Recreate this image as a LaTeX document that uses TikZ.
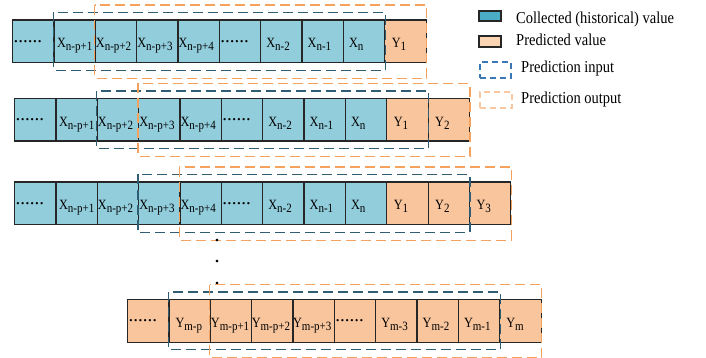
\documentclass[tikz,border=0pt]{standalone}
\usepackage{fontspec}
\setmainfont{Liberation Serif}
\usepackage{graphicx}
\definecolor{histfill}{HTML}{92CDDC}
\definecolor{predfill}{HTML}{F8C59D}
\definecolor{cellline}{HTML}{262626}
\definecolor{inline}{HTML}{2F5E74}
\definecolor{outline}{HTML}{F4A25E}
\definecolor{leghist}{HTML}{4BACC6}
\definecolor{legpred}{HTML}{FBD4B4}
\definecolor{legin}{HTML}{3A78B5}
\definecolor{legout}{HTML}{F8C8A2}
\newcommand\lab[2]{\scalebox{1}[1.15]{#1\raisebox{-2.6pt}{\fontsize{11}{11}\selectfont #2}}}
\newcommand\dd{\raisebox{5.5pt}{\fontsize{19}{19}\selectfont ......}}
\newcommand\legtext[1]{\scalebox{1}[1.15]{#1}}
\tikzset{
  cell/.style={draw=cellline, line width=1.2pt, minimum width=41.35pt, minimum height=42.5pt, anchor=north west, inner sep=0},
  hist/.style={cell, fill=histfill},
  pred/.style={cell, fill=predfill},
  lbl/.style={anchor=base west, inner sep=0, font=\fontsize{12.3}{12.3}\selectfont},
  inbox/.style={draw=inline, line width=1.3pt, dash pattern=on 10pt off 5pt},
  outbox/.style={draw=outline, line width=1.3pt, dash pattern=on 10pt off 5pt},
  legtxt/.style={anchor=base west, inner sep=0, font=\fontsize{14.5}{14.5}\selectfont},
  vdot/.style={anchor=base, inner sep=0, font=\fontsize{22}{22}\selectfont, text=black},
}
\begin{document}
\begin{tikzpicture}[x=1pt,y=-1pt]
\useasboundingbox (0,0) rectangle (706,358);

% Row 1
\foreach \k/\typ/\ins/\txt in {0/hist/1.5/{\dd},1/hist/3.5/{\lab{X}{n-p+1}},2/hist/1/{\lab{X}{n-p+2}},3/hist/1/{\lab{X}{n-p+3}},4/hist/1/{\lab{X}{n-p+4}},5/hist/1.5/{\dd},6/hist/6/{\lab{X}{n-2}},7/hist/6/{\lab{X}{n-1}},8/hist/6/{\lab{X}{n}},9/pred/7.5/{\lab{Y}{1}}}{
  \node[\typ] (a\k) at ({12+\k*41.35},19.5) {};
  \node[lbl] (ta\k) at ([xshift=\ins pt,yshift=-6.5pt]a\k.west) {\txt};
}
\draw[inbox] ([yshift=7pt]a1.north west) rectangle ([yshift=-7pt]a8.south east);
\draw[outbox] ([yshift=14.5pt]a2.north west) rectangle ([yshift=-15pt]a9.south east);

% Row 2
\foreach \k/\typ/\ins/\txt in {0/hist/1.5/{\dd},1/hist/3.5/{\lab{X}{n-p+1}},2/hist/1/{\lab{X}{n-p+2}},3/hist/1/{\lab{X}{n-p+3}},4/hist/1/{\lab{X}{n-p+4}},5/hist/1.5/{\dd},6/hist/6/{\lab{X}{n-2}},7/hist/6/{\lab{X}{n-1}},8/hist/6/{\lab{X}{n}},9/pred/7.5/{\lab{Y}{1}},10/pred/7.5/{\lab{Y}{2}}}{
  \node[\typ] (b\k) at ({14+\k*41.35},98) {};
  \node[lbl] (tb\k) at ([xshift=\ins pt,yshift=-6.5pt]b\k.west) {\txt};
}
\draw[inbox] ([yshift=7pt]b2.north west) rectangle ([yshift=-7pt]b9.south east);
\draw[outbox] ([yshift=14.5pt]b3.north west) rectangle ([yshift=-15pt]b10.south east);

% Row 3
\foreach \k/\typ/\ins/\txt in {0/hist/1.5/{\dd},1/hist/3.5/{\lab{X}{n-p+1}},2/hist/1/{\lab{X}{n-p+2}},3/hist/1/{\lab{X}{n-p+3}},4/hist/1/{\lab{X}{n-p+4}},5/hist/1.5/{\dd},6/hist/6/{\lab{X}{n-2}},7/hist/6/{\lab{X}{n-1}},8/hist/6/{\lab{X}{n}},9/pred/7.5/{\lab{Y}{1}},10/pred/7.5/{\lab{Y}{2}},11/pred/7.5/{\lab{Y}{3}}}{
  \node[\typ] (c\k) at ({14+\k*41.35},181.5) {};
  \node[lbl] (tc\k) at ([xshift=\ins pt,yshift=-6.5pt]c\k.west) {\txt};
}
\draw[inbox] ([yshift=7pt]c3.north west) rectangle ([yshift=-7pt]c10.south east);
\draw[outbox] ([yshift=14.5pt]c4.north west) rectangle ([yshift=-15pt]c11.south east);

% vertical dots
\node[vdot] (v1) at (217,241) {.};
\node[vdot] (v2) at (217,262.5) {.};
\node[vdot] (v3) at (217,284) {.};

% Row 4
\foreach \k/\typ/\ins/\txt in {0/pred/1.5/{\dd},1/pred/7/{\lab{Y}{m-p}},2/pred/1/{\lab{Y}{m-p+1}},3/pred/0.5/{\lab{Y}{m-p+2}},4/pred/0.5/{\lab{Y}{m-p+3}},5/pred/1.5/{\dd},6/pred/6/{\lab{Y}{m-3}},7/pred/6/{\lab{Y}{m-2}},8/pred/6/{\lab{Y}{m-1}},9/pred/7/{\lab{Y}{m}}}{
  \node[\typ] (d\k) at ({127+\k*41.35},299) {};
  \node[lbl] (td\k) at ([xshift=\ins pt,yshift=-6.5pt]d\k.west) {\txt};
}
\draw[inbox] ([yshift=7pt]d1.north west) rectangle ([yshift=-7pt]d8.south east);
\draw[outbox] ([yshift=14.5pt]d2.north west) rectangle ([yshift=-15pt]d9.south east);

% Legend
\node[draw=cellline, line width=1.2pt, fill=leghist, minimum width=22pt, minimum height=10pt, inner sep=0] (lg1) at (490,16) {};
\node[draw=cellline, line width=1.2pt, fill=legpred, minimum width=22pt, minimum height=11pt, inner sep=0] (lg2) at (490,41.5) {};
\node[draw=legin, line width=1.2pt, dash pattern=on 6pt off 4pt, minimum width=31pt, minimum height=16pt, inner sep=0] (lg3) at (495.5,70) {};
\node[draw=legout, line width=1.2pt, dash pattern=on 6pt off 4pt, minimum width=32pt, minimum height=16pt, inner sep=0] (lg4) at (496,100) {};
\node[legtxt] (lt1) at (516,23.3) {\legtext{Collected (historical) value}};
\node[legtxt] (lt2) at (516,45.3) {\legtext{Predicted value}};
\node[legtxt] (lt3) at (521,72.5) {\legtext{Prediction input}};
\node[legtxt] (lt4) at (521,104) {\legtext{Prediction output}};
\end{tikzpicture}
\end{document}
